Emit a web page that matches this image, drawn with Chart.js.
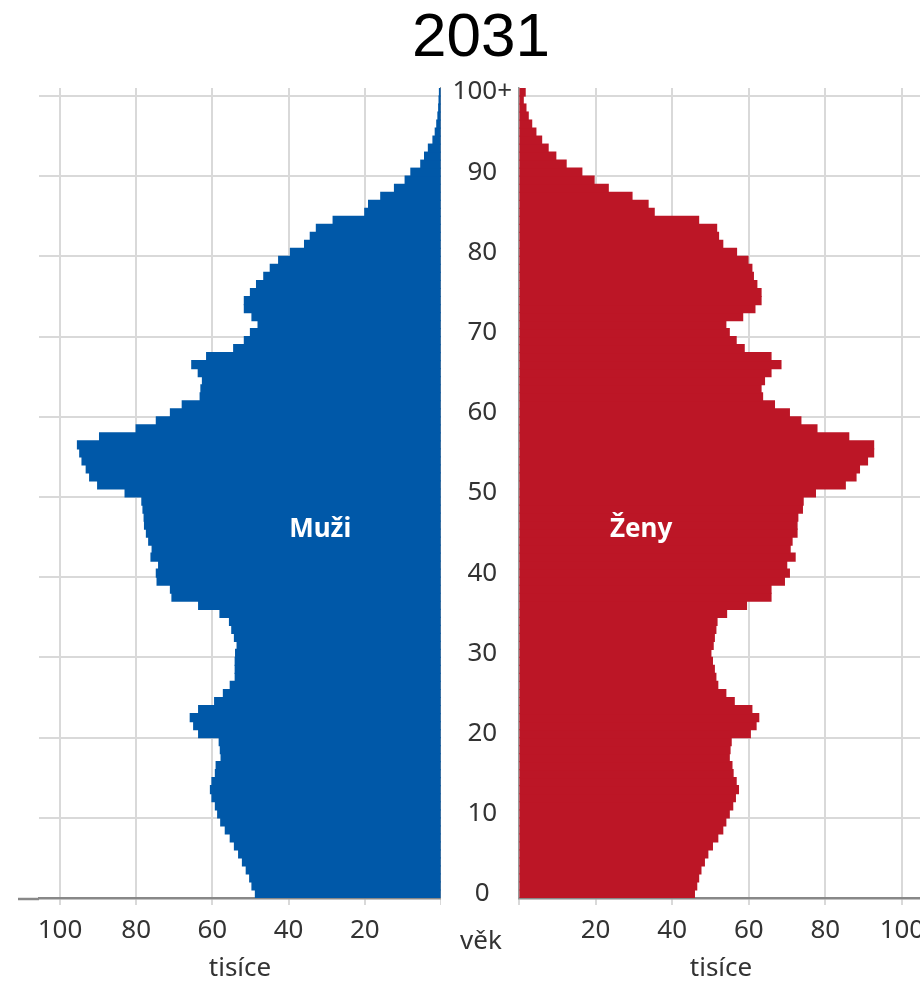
<!DOCTYPE html>
<html lang="cs">
<head>
<meta charset="utf-8">
<title>2031</title>
<script src="https://cdn.jsdelivr.net/npm/chart.js@4.4.0/dist/chart.umd.min.js"></script>
<style>
  html, body { margin: 0; padding: 0; background: #fff; width: 920px; height: 984px; overflow: hidden; position: relative; }
  #title { position: absolute; left: 381px; width: 200px; top: 4px; font: 62px/62px "Liberation Sans", Arial, sans-serif; text-align: center; color: #000; }
  #vek { position: absolute; left: 441px; width: 80px; top: 924px; font: 26px/30px "Noto Sans", sans-serif; text-align: center; color: #333; }
  #muzi { position: absolute; left: 0; top: 0; }
  #zeny { position: absolute; left: 441px; top: 0; }
</style>
</head>
<body>
<div id="title">2031</div>
<canvas id="muzi" width="441" height="984"></canvas>
<canvas id="zeny" width="520" height="984"></canvas>
<div id="vek">věk</div>
<script>
// věk 0..100+, hodnoty v tisících
var ages = [];
for (var a = 0; a < 100; a++) ages.push(String(a));
ages.push('100+');

var muzi = [
  48.7, 49.6, 50.2, 51.1, 52.1, 53.1, 54.2, 55.3, 56.6, 57.8,
  58.6, 59.2, 60.1, 60.5, 60.1, 59.2, 59.0, 57.7, 57.9, 58.2,
  63.6, 64.9, 65.8, 63.6, 59.4, 57.1, 55.3, 54.0, 54.0, 54.0,
  53.9, 53.5, 54.2, 54.9, 55.5, 58.0, 63.6, 70.6, 71.0, 74.5,
  74.7, 74.1, 76.1, 75.8, 76.7, 77.3, 77.8, 77.9, 78.2, 78.5,
  82.9, 90.1, 92.2, 93.1, 94.2, 94.8, 95.4, 89.6, 80.0, 74.7,
  71.0, 67.9, 63.2, 63.0, 62.6, 63.7, 65.4, 61.5, 54.4, 51.6,
  50.0, 48.0, 49.6, 51.6, 51.6, 50.0, 48.4, 46.5, 44.8, 42.6,
  39.5, 35.8, 34.3, 32.7, 28.3, 20.0, 19.0, 15.8, 12.2, 9.4,
  7.9, 5.3, 4.3, 3.3, 2.1, 1.5, 1.1, 0.8, 0.6, 0.5,
  0.4
];

var zeny = [
  45.8, 46.4, 46.9, 47.5, 48.4, 49.3, 50.5, 51.9, 53.2, 54.0,
  54.9, 55.8, 56.5, 57.3, 56.7, 55.9, 55.6, 54.9, 55.1, 55.4,
  60.4, 61.9, 62.6, 60.8, 56.2, 54.0, 51.9, 51.4, 51.0, 50.5,
  50.1, 50.7, 51.0, 51.4, 51.7, 54.2, 59.4, 65.8, 65.8, 69.3,
  70.6, 69.9, 72.1, 70.8, 71.3, 72.6, 72.6, 72.8, 74.0, 74.2,
  77.4, 85.2, 88.0, 88.9, 91.0, 92.6, 92.6, 86.1, 77.8, 73.6,
  70.6, 66.7, 63.6, 63.2, 64.1, 65.8, 68.4, 65.8, 58.8, 56.7,
  54.9, 54.0, 58.4, 61.6, 63.2, 63.2, 62.1, 61.2, 60.8, 59.8,
  56.8, 53.2, 52.1, 51.6, 46.9, 35.3, 33.7, 29.5, 23.3, 19.6,
  16.4, 12.3, 9.6, 7.6, 5.9, 4.4, 3.3, 2.4, 1.8, 1.1,
  1.6
];

var xTicks = [0, 20, 40, 60, 80, 100];

var FONT = '"Noto Sans", sans-serif';
var GRID = '#d9d9d9';

// popisek uvnitř pyramidy
var sexLabel = {
  id: 'sexLabel',
  afterDatasetsDraw: function(chart, args, opts) {
    var ctx = chart.ctx;
    ctx.save();
    ctx.font = 'bold 26px ' + FONT;
    ctx.fillStyle = '#fff';
    ctx.textAlign = 'center';
    ctx.textBaseline = 'middle';
    ctx.fillText(opts.text, chart.scales.x.getPixelForValue(opts.at[0]), chart.scales.y.getPixelForValue(opts.at[1]));
    ctx.restore();
  }
};

// spodní osa muží pokračuje kousek doleva za mřížku
var axisExtend = {
  id: 'axisExtend',
  afterDraw: function(chart, args, opts) {
    if (!opts.left) return;
    var ctx = chart.ctx, area = chart.chartArea;
    ctx.save();
    ctx.strokeStyle = '#888';
    ctx.lineWidth = 2.5;
    ctx.beginPath();
    ctx.moveTo(area.left - opts.left, area.bottom + 1);
    ctx.lineTo(area.left, area.bottom + 1);
    ctx.stroke();
    ctx.restore();
  }
};

function xAxis(reverse) {
  return {
    type: 'linear',
    min: 0,
    max: 105.5,
    reverse: reverse,
    afterBuildTicks: function(s) { s.ticks = xTicks.map(function(v) { return {value: v}; }); },
    afterFit: function(s) { s.height = 86; },
    grid: {
      color: function(c) { return c.tick && c.tick.value === 0 ? 'rgba(0,0,0,0)' : GRID; },
      lineWidth: 2,
      tickLength: 7,
      tickColor: GRID
    },
    border: { color: '#888', width: 2.5 },
    ticks: {
      padding: 10,
      color: '#333',
      font: { family: FONT, size: 26 },
      callback: function(v) { return v === 0 ? '' : v; }
    },
    title: {
      display: true,
      text: 'tisíce',
      color: '#333',
      font: { family: FONT, size: 26 },
      padding: 0
    }
  };
}

function yAxis(pos, showLabels) {
  return {
    type: 'category',
    position: pos,
    reverse: true,
    afterFit: function(s) { s.width = showLabels ? 78 : 0; },
    grid: {
      drawTicks: false,
      lineWidth: 2,
      offset: true,
      color: function(c) { return (c.index % 10 === 0 && c.index > 0 && c.index <= 100) ? GRID : 'rgba(0,0,0,0)'; }
    },
    border: { color: '#999', width: 1.5 },
    ticks: {
      display: showLabels,
      autoSkip: false,
      crossAlign: 'center',
      padding: 7,
      color: '#333',
      font: { family: FONT, size: 26 },
      callback: function(v, i) { return i % 10 === 0 ? this.getLabelForValue(v) : ''; }
    }
  };
}

new Chart(document.getElementById('muzi'), {
  type: 'bar',
  data: {
    labels: ages,
    datasets: [{ label: 'Muži', data: muzi, backgroundColor: '#0058a8', borderWidth: 0, inflateAmount: 0.6, barPercentage: 1, categoryPercentage: 1 }]
  },
  options: {
    indexAxis: 'y',
    responsive: false,
    animation: false,
    layout: { padding: { left: 39, right: 0, top: 88, bottom: 0 } },
    scales: { x: xAxis(true), y: yAxis('right', false) },
    plugins: {
      legend: { display: false },
      tooltip: { enabled: false },
      sexLabel: { text: 'Muži', at: [31.7, 45.4] },
      axisExtend: { left: 21 }
    }
  },
  plugins: [sexLabel, axisExtend]
});

new Chart(document.getElementById('zeny'), {
  type: 'bar',
  data: {
    labels: ages,
    datasets: [{ label: 'Ženy', data: zeny, backgroundColor: '#bc1626', borderWidth: 0, inflateAmount: 0.6, barPercentage: 1, categoryPercentage: 1 }]
  },
  options: {
    indexAxis: 'y',
    responsive: false,
    animation: false,
    layout: { padding: { left: 0, right: 38, top: 88, bottom: 0 } },
    scales: { x: xAxis(false), y: yAxis('left', true) },
    plugins: {
      legend: { display: false },
      tooltip: { enabled: false },
      sexLabel: { text: 'Ženy', at: [31.9, 45.4] },
      axisExtend: { left: 0 }
    }
  },
  plugins: [sexLabel, axisExtend]
});
</script>
</body>
</html>
